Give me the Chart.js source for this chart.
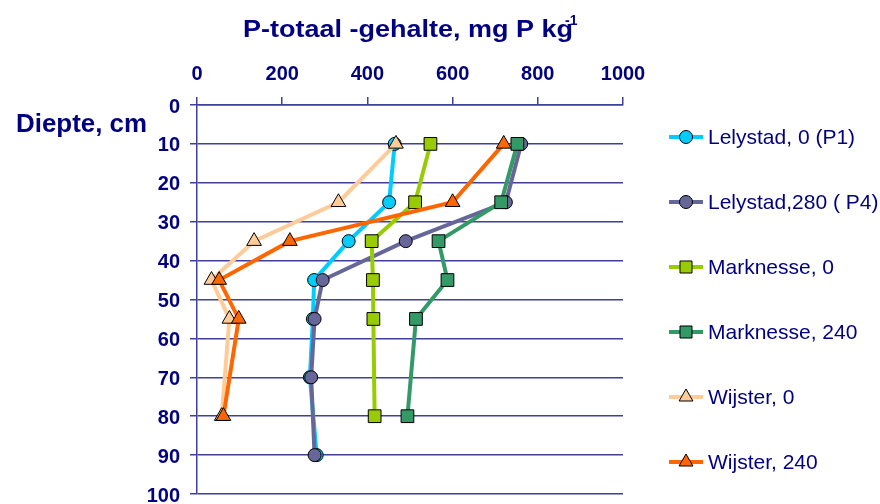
<!DOCTYPE html>
<html><head><meta charset="utf-8">
<script src="https://cdn.jsdelivr.net/npm/chart.js@4/dist/chart.umd.min.js"></script>
<style>html,body{margin:0;padding:0;background:#fff;} #wrap{width:880px;height:504px;position:relative;}</style>
</head><body><div id="wrap"><canvas id="c" width="880" height="504"></canvas></div>
<script>
// ---- data ----
const seriesNames = ['Lelystad, 0 (P1)', 'Lelystad,280 ( P4)', 'Marknesse, 0', 'Marknesse, 240', 'Wijster, 0', 'Wijster, 240'];
const depthsLelystad = [10, 25, 35, 45, 55, 70, 90];
const lelystad0   = [464, 451, 356, 275, 272, 265, 281];
const lelystad280 = [761, 725, 490, 295, 276, 268, 276];
const depthsMarknesse = [10, 25, 35, 45, 55, 80];
const marknesse0   = [548, 512, 410, 413, 414, 417];
const marknesse240 = [752, 714, 567, 588, 514, 494];
const depthsWijster = [10, 25, 35, 45, 55, 80];
const wijster0   = [467, 332, 134, 34, 76, 58];
const wijster240 = [720, 600, 218, 52, 98, 62];
const xTicks = [0, 200, 400, 600, 800, 1000];
const yTicks = [0, 10, 20, 30, 40, 50, 60, 70, 80, 90, 100];
const titleText = 'P-totaal -gehalte, mg P kg';
const titleSup = '-1';
const yTitleText = 'Diepte, cm';

// ---- styles ----
const navy = '#000080';
const gridColor = '#3f3f9c';
const FONT = '"Liberation Sans", Arial, sans-serif';
const colors = ['#00ccff', '#666699', '#99cc00', '#339966', '#ffcc99', '#ff6600'];
const styles = ['circle', 'circle', 'rect', 'rect', 'triangle', 'triangle'];
const radii = {circle: 6.5, rect: 9, triangle: 8.5};

const seriesDepths = [depthsLelystad, depthsLelystad, depthsMarknesse, depthsMarknesse, depthsWijster, depthsWijster];
const seriesValues = [lelystad0, lelystad280, marknesse0, marknesse240, wijster0, wijster240];

const datasets = seriesNames.map((name, i) => ({
  label: name,
  data: seriesValues[i].map((v, k) => ({x: v, y: seriesDepths[i][k]})),
  showLine: true,
  borderColor: colors[i],
  backgroundColor: colors[i],
  borderWidth: 4,
  pointStyle: styles[i],
  pointRadius: radii[styles[i]],
  pointHoverRadius: radii[styles[i]],
  pointBackgroundColor: colors[i],
  pointBorderColor: '#000000',
  pointBorderWidth: 1,
  tension: 0,
  order: seriesNames.length - 1 - i
}));

function drawMarker(ctx, style, r, x, y, fill) {
  ctx.save();
  ctx.fillStyle = fill; ctx.strokeStyle = '#000'; ctx.lineWidth = 1;
  if (Chart.helpers && Chart.helpers.drawPoint) {
    Chart.helpers.drawPoint(ctx, {pointStyle: style, radius: r, borderWidth: 1, rotation: 0}, x, y);
  } else {
    ctx.beginPath();
    if (style === 'circle') ctx.arc(x, y, r, 0, Math.PI * 2);
    else if (style === 'rect') { const s = r * Math.SQRT1_2; ctx.rect(x - s, y - s, 2 * s, 2 * s); }
    else { ctx.moveTo(x, y - r); ctx.lineTo(x + r * 0.866, y + r / 2); ctx.lineTo(x - r * 0.866, y + r / 2); ctx.closePath(); }
    ctx.fill(); ctx.stroke();
  }
  ctx.restore();
}

const overlay = {
  id: 'overlay',
  afterDraw(chart) {
    const ctx = chart.ctx, ca = chart.chartArea;
    ctx.save();
    ctx.fillStyle = navy;
    ctx.textBaseline = 'alphabetic';
    ctx.textAlign = 'left';
    // main title (stretched horizontally like the original)
    ctx.font = 'bold 23px ' + FONT;
    const tw = ctx.measureText(titleText).width;
    const targetW = 330;
    const cx = (ca.left + ca.right) / 2;
    const tx = cx - 167;
    ctx.save();
    ctx.translate(tx, 37);
    ctx.scale(targetW / tw, 1);
    ctx.fillText(titleText, 0, 0);
    ctx.restore();
    ctx.font = 'bold 14px ' + FONT;
    ctx.fillText(titleSup, tx + targetW - 8, 24.5);
    // y axis title, horizontal at top left
    ctx.font = 'bold 25px ' + FONT;
    const yw = ctx.measureText(yTitleText).width;
    ctx.save();
    ctx.translate(16, 131.5);
    ctx.scale(131 / yw, 1);
    ctx.fillText(yTitleText, 0, 0);
    ctx.restore();
    // legend
    ctx.font = '21px ' + FONT;
    ctx.textBaseline = 'middle';
    chart.data.datasets.forEach((ds, i) => {
      const y = ca.top + 32 + i * 65;
      const x0 = ca.right + 46;
      ctx.save();
      ctx.strokeStyle = ds.borderColor; ctx.lineWidth = 4;
      ctx.beginPath(); ctx.moveTo(x0, y); ctx.lineTo(x0 + 34, y); ctx.stroke();
      ctx.restore();
      drawMarker(ctx, ds.pointStyle, ds.pointStyle === 'rect' ? 8.5 : (ds.pointStyle === 'triangle' ? 8 : 6.5), x0 + 17, y, ds.pointBackgroundColor);
      ctx.fillStyle = navy;
      ctx.fillText(ds.label, x0 + 39, y + 1);
    });
    ctx.restore();
  }
};

new Chart(document.getElementById('c'), {
  type: 'scatter',
  data: {datasets},
  options: {
    responsive: false,
    animation: false,
    events: [],
    layout: {padding: {top: 55, right: 257, bottom: 8, left: 0}},
    plugins: {legend: {display: false}, tooltip: {enabled: false}, title: {display: false}},
    scales: {
      x: {
        type: 'linear', position: 'top', min: 0, max: 1000,
        afterBuildTicks: s => { s.ticks = xTicks.map(v => ({value: v})); },
        afterFit: s => { s.height = 50; s.paddingLeft = 0; s.paddingRight = 0; },
        grid: {drawOnChartArea: false, drawTicks: true, tickLength: 8, color: gridColor, lineWidth: 1.5},
        border: {display: true, color: gridColor, width: 1.5},
        ticks: {padding: 11, autoSkip: false, maxRotation: 0, color: navy, font: {family: FONT, size: 20, weight: 'bold'}, callback: v => String(v)}
      },
      y: {
        type: 'linear', position: 'left', reverse: true, min: 0, max: 100,
        afterBuildTicks: s => { s.ticks = yTicks.map(v => ({value: v})); },
        afterFit: s => { s.width = 197; s.paddingTop = 0; s.paddingBottom = 0; },
        grid: {drawOnChartArea: true, drawTicks: true, tickLength: 7, color: gridColor, lineWidth: 1.5},
        border: {display: true, color: gridColor, width: 1.5},
        ticks: {padding: 10, labelOffset: 2, autoSkip: false, color: navy, font: {family: FONT, size: 20, weight: 'bold'}, callback: v => String(v)}
      }
    }
  },
  plugins: [overlay]
});
</script>
</body></html>
